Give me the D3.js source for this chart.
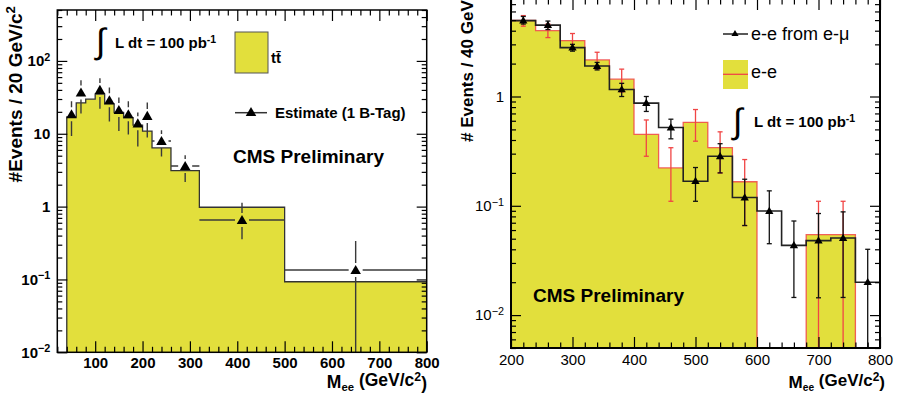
<!DOCTYPE html>
<html>
<head>
<meta charset="utf-8">
<script src="https://cdn.jsdelivr.net/npm/d3@7"></script>
<style>
  body { margin: 0; background: #fff; }
  text { font-family: "Liberation Sans", Arial, Helvetica, sans-serif; }
</style>
</head>
<body>
<div id="chart"></div>
<script>
// left panel: ttbar MC (variable bins) and the 1 b-tag estimate
const leftEdges = [40, 60, 80, 100, 120, 140, 160, 180, 200, 220, 260, 320, 500, 800]
const ttbarCounts = [17.0, 26.5, 29.8, 34.9, 25.7, 19.7, 16.7, 13.1, 10.9, 6.4, 3.12, 0.98, 0.093]
const estMass = [50, 70, 110, 130, 150, 170, 190, 210, 240, 290, 410, 650]
const estValue = [18.5, 36.8, 40, 28.8, 21.2, 18.5, 13.9, 17.6, 7.96, 3.61, 0.655, 0.135]
const estLow = [9.3, 19, 22, 14.7, 10.9, 9.8, 6.7, 8.9, 4.86, 2.18, 0.355, 0.0001]
const estHigh = [28, 54.4, 58, 43, 31.4, 28, 19.6, 26.8, 11.2, 5.07, 1.13, 0.337]
const estBinLo = [40, 60, 100, 120, 140, 160, 180, 200, 220, 260, 320, 500]
const estBinHi = [60, 80, 120, 140, 160, 180, 200, 220, 260, 320, 500, 800]

// right panel: e-e (yellow, red line) vs e-e from e-mu (black)
const rightEdges = [200, 240, 280, 320, 360, 400, 440, 480, 520, 560, 600, 640, 680, 720, 760, 800]
const eeCounts = [4.96, 4.0, 3.25, 2.16, 1.44, 0.45, 0.222, 0.58, 0.34, 0.166, 0, 0, 0.0544, 0.0544, 0]
const eeLow = [4.4, 3.46, 2.73, 1.78, 1.10, 0.284, 0.11, 0.39, 0.2, 0.066, null, null, 0.0001, 0.0001, null]
const eeHigh = [5.5, 4.6, 3.77, 2.54, 1.78, 0.61, 0.34, 0.76, 0.475, 0.265, null, null, 0.11, 0.11, null]
const emuCounts = [4.95, 4.5, 2.8, 1.9, 1.16, 0.87, 0.52, 0.168, 0.284, 0.119, 0.0896, 0.0434, 0.048, 0.0507, 0.02]
const emuLow = [4.6, 4.1, 2.6, 1.75, 1.0, 0.73, 0.41, 0.11, 0.20, 0.066, 0.045, 0.0145, 0.0144, 0.0145, 0.0001]
const emuHigh = [5.4, 4.9, 3.0, 2.05, 1.32, 1.0, 0.62, 0.224, 0.37, 0.175, 0.137, 0.0726, 0.085, 0.088, 0.04]

const yellow = '#e2df3c'
const red = '#f04545'

const svg = d3.select('#chart').append('svg')
              .attr('width', 897)
              .attr('height', 395)

const xL = d3.scaleLinear().domain([20, 800]).range([57.3, 426.7])
const yL = d3.scaleLog().domain([0.01, 500]).range([352.3, 10]).clamp(true)
const xR = d3.scaleLinear().domain([200, 800]).range([511, 880])
const yR = d3.scaleLog().domain([0.005, 7.8]).range([348, -1]).clamp(true)

function logLabel(v) {
  const e = Math.round(Math.log10(v))
  if (e === 0) return ['1', '']
  if (e === 1) return ['10', '']
  return ['10', e < 0 ? '\u2212' + (-e) : '' + e]
}

function frameAxes(g, x, y, xMajor, xMinor, yMajor, yMinor, weight, padX) {
  const [x0, x1] = x.range()
  const [y0, y1] = y.range()
  const clean = a => {
    a.select('.domain').remove()
    a.attr('font-family', null).attr('font-size', 15).attr('font-weight', weight)
    a.selectAll('line').attr('stroke-width', 1.2)
  }
  g.append('g').attr('transform', `translate(0,${y0})`)
   .call(d3.axisBottom(x).tickValues(xMajor).tickSize(-11).tickPadding(padX)).call(clean)
  g.append('g').attr('transform', `translate(0,${y0})`)
   .call(d3.axisBottom(x).tickValues(xMinor).tickSize(-5.5).tickFormat('')).call(clean)
  g.append('g').attr('transform', `translate(0,${y1})`)
   .call(d3.axisTop(x).tickValues(xMajor).tickSize(-11).tickFormat('')).call(clean)
  g.append('g').attr('transform', `translate(0,${y1})`)
   .call(d3.axisTop(x).tickValues(xMinor).tickSize(-5.5).tickFormat('')).call(clean)

  const yl = g.append('g').attr('transform', `translate(${x0},0)`)
   .call(d3.axisLeft(y).tickValues(yMajor).tickSize(-10).tickPadding(7)).call(clean)
  yl.selectAll('.tick text').each(function(d) {
    const [b, e] = logLabel(d)
    const t = d3.select(this).text(b)
    if (e) t.append('tspan').attr('dy', '-0.5em').attr('font-size', '0.72em').text(e)
  })
  g.append('g').attr('transform', `translate(${x0},0)`)
   .call(d3.axisLeft(y).tickValues(yMinor).tickSize(-5).tickFormat('')).call(clean)
  g.append('g').attr('transform', `translate(${x1},0)`)
   .call(d3.axisRight(y).tickValues(yMajor).tickSize(-10).tickFormat('')).call(clean)
  g.append('g').attr('transform', `translate(${x1},0)`)
   .call(d3.axisRight(y).tickValues(yMinor).tickSize(-5).tickFormat('')).call(clean)
}

function logTicks(y) {
  const [lo, hi] = y.domain()
  const major = [], minor = []
  for (let e = -3; e <= 3; e++) {
    for (let k = 1; k <= 9; k++) {
      const v = k * Math.pow(10, e)
      if (v < lo * 0.999 || v > hi * 1.001) continue
      if (k === 1) major.push(v)
      else minor.push(v)
    }
  }
  return [major, minor]
}

function stepData(edges, counts) {
  return edges.map((e, i) => [e, counts[Math.min(i, counts.length - 1)]])
}

// ---------------- left panel ----------------
const left = svg.append('g')
svg.append('clipPath').attr('id', 'clipL').append('rect')
   .attr('x', 57.3).attr('y', 10).attr('width', 426.7 - 57.3).attr('height', 352.3 - 10)
const plotL = left.append('g').attr('clip-path', 'url(#clipL)')

const areaL = d3.area().curve(d3.curveStepAfter)
                .x(d => xL(d[0])).y0(yL.range()[0]).y1(d => yL(d[1]))
const lineL = d3.line().curve(d3.curveStepAfter).x(d => xL(d[0])).y(d => yL(d[1]))

plotL.append('path').datum(stepData(leftEdges, ttbarCounts))
     .attr('d', areaL).attr('fill', yellow)
plotL.append('path').datum([[40, 1e-9]].concat(stepData(leftEdges, ttbarCounts)))
     .attr('d', lineL).attr('fill', 'none').attr('stroke', '#333').attr('stroke-width', 1.3)

// error bars drawn ROOT-like, with a gap around each marker
const gap = 7
const bars = plotL.append('g').attr('stroke', '#3a3a3a').attr('stroke-width', 1.4)
estMass.forEach((m, i) => {
  const cx = xL(m), cy = yL(estValue[i])
  const segs = [
    [xL(estBinLo[i]), cy, cx - gap, cy],
    [cx + gap, cy, xL(estBinHi[i]), cy],
    [cx, yL(estHigh[i]), cx, cy - gap],
    [cx, cy + gap, cx, yL(estLow[i])]
  ]
  segs.filter(s => Math.abs(s[2] - s[0]) + Math.abs(s[3] - s[1]) > 0.5 && s[0] <= s[2] && s[1] <= s[3])
      .forEach(s => bars.append('line').attr('x1', s[0]).attr('y1', s[1]).attr('x2', s[2]).attr('y2', s[3]))
})
plotL.selectAll('.mk').data(estMass).enter().append('path')
     .attr('d', d3.symbol(d3.symbolTriangle, 48))
     .attr('transform', (d, i) => `translate(${xL(d)},${yL(estValue[i]) + 1})`)
     .attr('fill', '#000')

frameAxes(left, xL, yL, d3.range(100, 801, 100), d3.range(20, 801, 20).filter(v => v % 100),
          ...logTicks(yL), 'bold', 5)
left.append('rect').attr('x', 57.3).attr('y', 10).attr('width', 426.7 - 57.3).attr('height', 352.3 - 10)
    .attr('fill', 'none').attr('stroke', '#000').attr('stroke-width', 1.5)

left.append('text').attr('transform', 'translate(22,6) rotate(-90)')
    .attr('text-anchor', 'end').attr('font-size', 19).attr('font-weight', 'bold')
    .text('#Events / 20 GeV/c').append('tspan').attr('dy', '-0.5em').attr('font-size', '0.7em').text('2')

const xtL = left.append('text').attr('x', 427).attr('y', 388).attr('text-anchor', 'end')
                .attr('font-size', 17.5).attr('font-weight', 'bold')
xtL.append('tspan').text('M')
xtL.append('tspan').attr('dy', '0.3em').attr('font-size', '0.65em').text('ee')
xtL.append('tspan').attr('dy', '-0.3em').text(' (GeV/c')
xtL.append('tspan').attr('dy', '-0.45em').attr('font-size', '0.7em').text('2')
xtL.append('tspan').attr('dy', '0.45em').text(')')

// legend left
left.append('text').attr('x', 96).attr('y', 53).attr('font-size', 35)
    .attr('font-family', 'DejaVu Serif').text('\u222B')
const lumL = left.append('text').attr('x', 115).attr('y', 48).attr('font-size', 15).attr('font-weight', 'bold')
lumL.append('tspan').text('L dt = 100 pb')
lumL.append('tspan').attr('dy', '-0.5em').attr('font-size', '0.7em').text('-1')

left.append('rect').attr('x', 235).attr('y', 32).attr('width', 33).attr('height', 41)
    .attr('fill', yellow).attr('stroke', '#555').attr('stroke-width', 1)
left.append('text').attr('x', 271).attr('y', 63).attr('font-size', 15).attr('font-weight', 'bold')
    .text('tt\u0304')

left.append('line').attr('x1', 235).attr('x2', 267).attr('y1', 112.7).attr('y2', 112.7)
    .attr('stroke', '#333').attr('stroke-width', 1.5)
left.append('path').attr('d', d3.symbol(d3.symbolTriangle, 48)).attr('transform', 'translate(251,113)')
left.append('text').attr('x', 275).attr('y', 118).attr('font-size', 15).attr('font-weight', 'bold')
    .text('Estimate (1 B-Tag)')
left.append('text').attr('x', 233).attr('y', 163).attr('font-size', 19).attr('font-weight', 'bold')
    .text('CMS Preliminary')

// ---------------- right panel ----------------
const right = svg.append('g')
svg.append('clipPath').attr('id', 'clipR').append('rect')
   .attr('x', 511).attr('y', -1).attr('width', 880 - 511).attr('height', 349)
const plotR = right.append('g').attr('clip-path', 'url(#clipR)')

const areaR = d3.area().curve(d3.curveStepAfter)
                .x(d => xR(d[0])).y0(yR.range()[0]).y1(d => yR(d[1]))
const lineR = d3.line().curve(d3.curveStepAfter).x(d => xR(d[0])).y(d => yR(d[1]))
const centers = rightEdges.slice(0, -1).map((e, i) => (e + rightEdges[i + 1]) / 2)

plotR.append('path').datum(stepData(rightEdges, eeCounts)).attr('d', areaR).attr('fill', yellow)
plotR.append('path').datum(stepData(rightEdges, eeCounts)).attr('d', lineR)
     .attr('fill', 'none').attr('stroke', red).attr('stroke-width', 1.3).attr('stroke-opacity', 0.85)
plotR.append('path').datum(stepData(rightEdges, emuCounts)).attr('d', lineR)
     .attr('fill', 'none').attr('stroke', '#222').attr('stroke-width', 1.6)

function errBars(g, values, lo, hi, color, cap) {
  const idx = d3.range(values.length).filter(i => hi[i] !== null)
  const b = g.append('g').attr('stroke', color).attr('stroke-width', 1.3)
  b.selectAll('.v').data(idx).enter().append('line')
   .attr('x1', i => xR(centers[i])).attr('x2', i => xR(centers[i]))
   .attr('y1', i => yR(hi[i])).attr('y2', i => yR(lo[i]))
  b.selectAll('.ct').data(idx).enter().append('line')
   .attr('x1', i => xR(centers[i]) - cap).attr('x2', i => xR(centers[i]) + cap)
   .attr('y1', i => yR(hi[i])).attr('y2', i => yR(hi[i]))
  b.selectAll('.cb').data(idx).enter().append('line')
   .attr('x1', i => xR(centers[i]) - cap).attr('x2', i => xR(centers[i]) + cap)
   .attr('y1', i => yR(lo[i])).attr('y2', i => yR(lo[i]))
}
errBars(plotR, eeCounts, eeLow, eeHigh, red, 2.5)
errBars(plotR, emuCounts, emuLow, emuHigh, '#111', 2.5)
plotR.selectAll('.mk').data(centers).enter().append('path')
     .attr('d', d3.symbol(d3.symbolTriangle, 30))
     .attr('transform', (d, i) => `translate(${xR(d)},${yR(emuCounts[i]) + 0.5})`)
     .attr('fill', '#000')

frameAxes(right, xR, yR, d3.range(200, 801, 100), d3.range(220, 801, 20).filter(v => v % 100),
          ...logTicks(yR), 'normal', 6)
right.append('rect').attr('x', 511).attr('y', -1).attr('width', 880 - 511).attr('height', 349)
     .attr('fill', 'none').attr('stroke', '#000').attr('stroke-width', 2)

right.append('text').attr('transform', 'translate(473,142) rotate(-90)')
     .attr('font-size', 17).attr('font-weight', 'bold')
     .text('# Events / 40 GeV/c').append('tspan').attr('dy', '-0.5em').attr('font-size', '0.7em').text('2')

const xtR = right.append('text').attr('x', 885).attr('y', 388).attr('text-anchor', 'end')
                 .attr('font-size', 17).attr('font-weight', 'bold')
xtR.append('tspan').text('M')
xtR.append('tspan').attr('dy', '0.3em').attr('font-size', '0.6em').text('ee')
xtR.append('tspan').attr('dy', '-0.3em').text(' (GeV/c')
xtR.append('tspan').attr('dy', '-0.45em').attr('font-size', '0.7em').text('2')
xtR.append('tspan').attr('dy', '0.45em').text(')')

// legend right
right.append('line').attr('x1', 723).attr('x2', 748).attr('y1', 34).attr('y2', 34)
     .attr('stroke', '#222').attr('stroke-width', 1.5)
right.append('path').attr('d', d3.symbol(d3.symbolTriangle, 22)).attr('transform', 'translate(735,34)')
right.append('text').attr('x', 751).attr('y', 40).attr('font-size', 18).text('e-e from e-\u03BC')
right.append('rect').attr('x', 723).attr('y', 60).attr('width', 25).attr('height', 29).attr('fill', yellow)
right.append('line').attr('x1', 723).attr('x2', 748).attr('y1', 74.3).attr('y2', 74.3)
     .attr('stroke', red).attr('stroke-width', 1.3)
right.append('text').attr('x', 751).attr('y', 78.3).attr('font-size', 18).text('e-e')
right.append('text').attr('x', 733).attr('y', 133).attr('font-size', 35)
     .attr('font-family', 'DejaVu Serif').text('\u222B')
const lumR = right.append('text').attr('x', 754).attr('y', 127).attr('font-size', 15).attr('font-weight', 'bold')
lumR.append('tspan').text('L dt = 100 pb')
lumR.append('tspan').attr('dy', '-0.5em').attr('font-size', '0.7em').text('-1')
right.append('text').attr('x', 533).attr('y', 302).attr('font-size', 19).attr('font-weight', 'bold')
     .text('CMS Preliminary')
</script>
</body>
</html>
